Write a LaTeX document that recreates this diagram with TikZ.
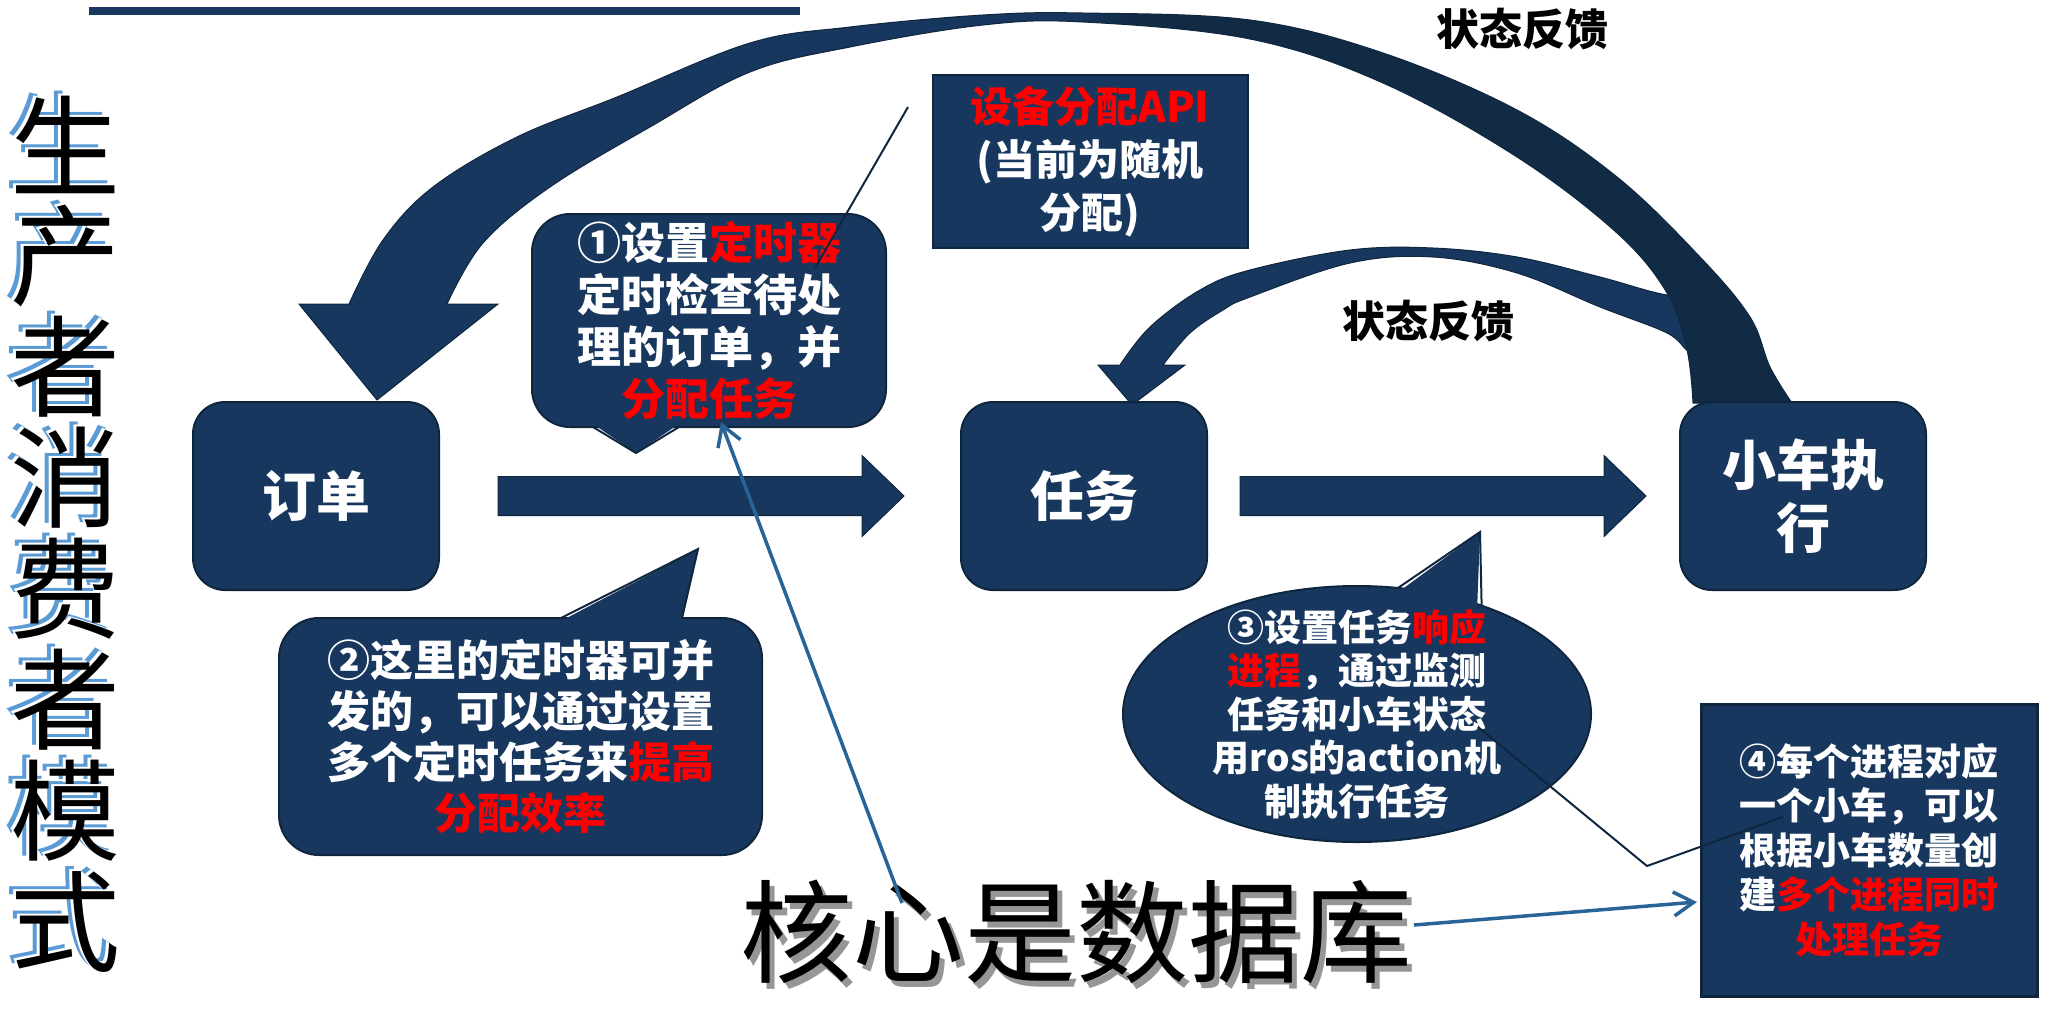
\documentclass[tikz,border=0pt]{standalone}
\usepackage{fontspec}
\setmainfont{Noto Sans CJK SC}
\usetikzlibrary{arrows.meta,shapes.geometric,positioning,calc}

\definecolor{boxnavy}{RGB}{23,55,94}
\definecolor{boxedge}{RGB}{16,38,63}
\definecolor{arcdark}{RGB}{18,43,69}
\definecolor{linkblue}{RGB}{40,100,150}
\definecolor{shadowblue}{RGB}{91,155,213}
\definecolor{shadowgray}{RGB}{150,150,150}
\definecolor{hotred}{RGB}{255,0,0}

\pgfdeclarehorizontalshading{arcshade}{100bp}{color(0bp)=(boxnavy); color(51bp)=(boxnavy); color(53bp)=(arcdark); color(100bp)=(arcdark)}

% 块状箭头：#1 为起点坐标
\newcommand{\blockarrow}[1]{%
  \fill[boxnavy,draw=boxedge,line width=1pt] ($(#1)+(0,-19.5)$) -- ++(364,0) -- ++(0,-21)
    -- ++(42,40.5) -- ++(-42,40.5) -- ++(0,-21) -- ++(-364,0) -- cycle;}

\begin{document}
\begin{tikzpicture}[x=1pt,y=-1pt,
    box/.style={draw=boxedge,line width=2pt,fill=boxnavy,rounded corners=32pt,
      minimum width=246pt,minimum height=188pt,outer sep=0pt,text=white,align=center,
      font=\fontsize{54}{63}\selectfont\bfseries},
    note/.style={draw=boxedge,line width=2pt,fill=boxnavy,text=white,align=center,
      inner sep=0pt,outer sep=0pt},
    fbtext/.style={font=\fontsize{43}{43}\selectfont\bfseries},
    link/.style={linkblue,line width=3.5pt,-{Straight Barb[length=20pt,width=24pt]}},
    lead/.style={boxedge,line width=2pt}]

    \useasboundingbox (0,0) rectangle (2055,1034);

    % 顶部横线
    \draw[boxnavy,line width=8pt] (89,11) -- (800,11);

    % 竖排标题
    \foreach \ch [count=\i] in {生,产,者,消,费,者,模,式}{
        \node[shadowblue,font=\fontsize{110}{110}\selectfont,inner sep=0pt] at (58,{29+111*\i}) {\ch};
        \node[white,font=\fontsize{110}{110}\selectfont,inner sep=0pt] at (62,{32+111*\i}) {\ch};
        \node[black,font=\fontsize{110}{110}\selectfont,inner sep=0pt] (title\i) at (65,{34+111*\i}) {\ch};
    }

    % 小弧形箭头（状态反馈）
    \fill[boxnavy,draw=boxedge,line width=1pt]
        plot[smooth,tension=0.6] coordinates {(1715,296) (1667,295) (1600,277) (1517,257) (1433,248)
            (1350,250) (1250,270) (1200,290) (1150,327) (1120,365)}
        -- (1098,365) -- (1132,405) -- (1185,365) -- (1163,365)
        -- plot[smooth,tension=0.6] coordinates {(1163,365) (1190,333) (1223,310) (1250,297) (1350,263)
            (1433,257) (1517,273) (1600,307) (1667,333) (1690,352) (1715,352)}
        -- cycle;

    % 大弧形箭头（状态反馈）
    \shadedraw[shading=arcshade,draw=boxedge,line width=1pt]
        plot[smooth,tension=0.6] coordinates {(1792,403) (1770,367) (1750,317) (1700,257) (1617,177)
            (1517,110) (1383,53) (1250,20) (1083,13) (983,15) (850,27) (750,43) (617,97) (517,137)
            (433,187) (383,240) (349,304)}
        -- (299,304) -- (377,400) -- (498,304) -- (447,304)
        -- plot[smooth,tension=0.6] coordinates {(447,304) (483,243) (550,187) (650,127) (750,72)
            (850,47) (983,25) (1083,22) (1250,39) (1383,83) (1517,157) (1617,233) (1667,293)
            (1687,350) (1693,403)}
        -- cycle;

    \node[fbtext] (fbtop) at (1522,29) {状态反馈};
    \node[fbtext] (fbmid) at (1428,321) {状态反馈};

    % 主流程
    \node[box] (order) at (316,496) {订单};
    \node[box] (task) at (1084,496) {任务};
    \node[box] (car) at (1803,496) {小车执\\行};

    \coordinate (arrA) at ($(order.east)+(59,0)$);
    \coordinate (arrB) at ($(task.east)+(33,0)$);
    \blockarrow{arrA}
    \blockarrow{arrB}

    % 设备分配API
    \node[note,minimum width=315pt,minimum height=173pt,
        font=\fontsize{42}{53}\selectfont\bfseries] (api) at (1090,161.5)
        {\textcolor{hotred}{设备分配API}\\(当前为随机\\分配)};

    % 说明①
    \node[note,rounded corners=38pt,minimum width=354pt,minimum height=213pt,
        font=\fontsize{44}{52}\selectfont\bfseries] (call1) at (709,320.5)
        {①设置\textcolor{hotred}{定时器}\\定时检查待处\\理的订单，并\\\textcolor{hotred}{分配任务}};
    \fill[boxnavy] ($(call1.south)+(-116,-3)$) -- ($(call1.south)+(-73,26)$) -- ($(call1.south)+(-30,-3)$) -- cycle;
    \draw[lead] ($(call1.south)+(-116,0)$) -- ($(call1.south)+(-73,26)$) -- ($(call1.south)+(-30,0)$);

    % 说明②
    \node[note,rounded corners=40pt,minimum width=483pt,minimum height=237pt,
        font=\fontsize{43}{51}\selectfont\bfseries] (call2) at (520.5,736.5)
        {②这里的定时器可并\\发的，可以通过设置\\多个定时任务来\textcolor{hotred}{提高}\\\textcolor{hotred}{分配效率}};
    \fill[boxnavy] ($(call2.north)+(40.5,3)$) -- ($(call2.north)+(177.5,-69)$) -- ($(call2.north)+(161.5,3)$) -- cycle;
    \draw[lead] ($(call2.north)+(40.5,0)$) -- ($(call2.north)+(177.5,-69)$) -- ($(call2.north)+(161.5,0)$);

    % 说明③
    \node[note,ellipse,minimum width=468pt,minimum height=256pt] (ell3) at (1357,714) {};
    \fill[boxnavy] ($(ell3.72)!6pt!(ell3.center)$) -- ($(ell3.center)+(123,-182)$) -- ($(ell3.41)!6pt!(ell3.center)$) -- cycle;
    \draw[lead] (ell3.72) -- ($(ell3.center)+(123,-182)$) -- (ell3.41);
    \node[text=white,align=center,font=\fontsize{37}{43.5}\selectfont\bfseries] (txt3) at (ell3.center)
        {③设置任务\textcolor{hotred}{响应}\\\textcolor{hotred}{进程}，通过监测\\任务和小车状态\\用ros的action机\\制执行任务};

    % 说明④
    \node[note,line width=3pt,minimum width=336pt,minimum height=292pt,
        font=\fontsize{37}{44.5}\selectfont\bfseries] (box4) at (1869,850)
        {④每个进程对应\\一个小车，可以\\根据小车数量创\\建\textcolor{hotred}{多个进程同时}\\\textcolor{hotred}{处理任务}};

    % 核心是数据库
    \node[shadowgray,font=\fontsize{112}{112}\selectfont] at (1081,938) {核心是数据库};
    \node[font=\fontsize{112}{112}\selectfont] (core) at (1076,932) {核心是数据库};

    % 引线
    \coordinate (leadA) at (908,107);
    \draw[lead] (leadA) -- ($(call1.north)+(106,54)$);
    \coordinate (bend) at (1647,866);
    \draw[lead] ($(ell3.center)+(121,13)$) -- (bend) -- ($(box4.west)+(82,-33)$);

    \draw[link] ($(core.center)+(-174,-29)$) -- ($(call1.south)+(12,-5)$);
    \draw[link] ($(core.center)+(338,-7)$) -- ($(box4.west)+(-4,52)$);

\end{tikzpicture}
\end{document}
